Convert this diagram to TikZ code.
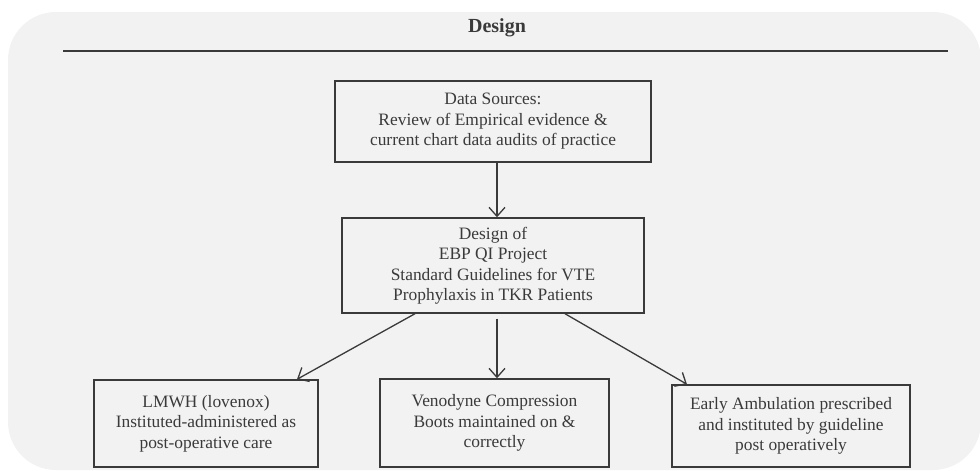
\documentclass[tikz,border=0pt]{standalone}
\usepackage{fontspec}
\setmainfont{Liberation Serif}
\usepackage{tikz}
\usetikzlibrary{arrows.meta,positioning}
\definecolor{panelgray}{HTML}{F2F2F2}
\definecolor{inkgray}{HTML}{3A3A3A}
\tikzset{
  stepbox/.style={draw=inkgray,line width=1.4pt,text=inkgray,align=center,inner sep=0pt,
    font=\fontsize{17.4}{20.5}\selectfont},
  flow/.style={draw=inkgray,line width=1.3pt,-{Straight Barb[length=9pt,width=16pt]}}
}
\begin{document}
\begin{tikzpicture}[x=1pt,y=-1pt]
\useasboundingbox (0,0) rectangle (980,471);
\fill[panelgray,rounded corners=48pt] (8,12) rectangle (981,470);
\node[text=inkgray,font=\fontsize{20}{23}\selectfont\bfseries](title) at (497,28){Design};
\draw[inkgray,line width=1.1pt] (63,51) -- (948,51);
\node[stepbox,minimum width=316pt,minimum height=81pt](src) at (493,121.5)
  {Data Sources:\\Review of Empirical evidence \&\\current chart data audits of practice};
\node[stepbox,minimum width=302pt,minimum height=95pt](dsg) at (493,265.5)
  {Design of\\EBP QI Project\\Standard Guidelines for VTE\\Prophylaxis in TKR Patients};
\node[stepbox,minimum width=224pt,minimum height=87pt](lmwh) at (206,423.5)
  {LMWH (lovenox)\\Instituted-administered as\\post-operative care};
\node[stepbox,minimum width=229pt,minimum height=88pt](veno) at (494.5,423)
  {Venodyne Compression\\Boots maintained on \&\\correctly};
\node[stepbox,minimum width=238pt,minimum height=82pt](amb) at (791,426)
  {Early Ambulation prescribed\\and instituted by guideline\\post operatively};
\draw[flow] ([xshift=4pt]src.south) -- ([xshift=4pt]dsg.north);
\draw[flow] ([xshift=-78pt]dsg.south) -- ([xshift=91pt]lmwh.north);
\draw[flow] ([xshift=4pt,yshift=-5pt]dsg.south) -- ([xshift=2.5pt]veno.north);
\draw[flow] ([xshift=72pt]dsg.south) -- ([xshift=-104pt]amb.north);
\end{tikzpicture}
\end{document}
